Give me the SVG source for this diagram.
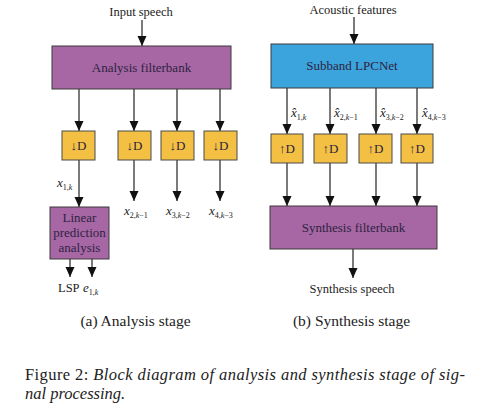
<svg xmlns="http://www.w3.org/2000/svg" width="494" height="404" viewBox="0 0 494 404">
<style>
text{font-family:"Liberation Serif","Times New Roman",serif;fill:#222}
.bt{font-size:13px;fill:#2e2340}
.lb{font-size:12.5px}
.it{font-style:italic}
.sb{font-size:8px}
.cap{font-size:15.5px}
.fig{font-size:16.5px}
.purple{fill:#a767a5;stroke:#3a3a3a;stroke-width:1}
.orange{fill:#f3c043;stroke:#4a4a4a;stroke-width:1}
.blue{fill:#3ca4dc;stroke:#3a3a3a;stroke-width:1}
.ln{stroke:#333;stroke-width:1.3;fill:none;marker-end:url(#ah)}
</style>
<defs>
<marker id="ah" markerUnits="userSpaceOnUse" markerWidth="10" markerHeight="10" refX="10" refY="4.5" orient="auto">
<path d="M0,0 L10,4.5 L0,9 z" fill="#111"/>
</marker>
</defs>
<rect width="494" height="404" fill="#fff"/>
<g id="connectors">
<line class="ln" x1="142" y1="20" x2="142" y2="46"/>
<line class="ln" x1="79" y1="89" x2="79" y2="131"/>
<line class="ln" x1="134" y1="89" x2="134" y2="131"/>
<line class="ln" x1="177" y1="89" x2="177" y2="131"/>
<line class="ln" x1="220" y1="89" x2="220" y2="131"/>
<line class="ln" x1="79" y1="160" x2="79" y2="207"/>
<line class="ln" x1="134" y1="160" x2="134" y2="201"/>
<line class="ln" x1="177" y1="160" x2="177" y2="201"/>
<line class="ln" x1="220" y1="160" x2="220" y2="201"/>
<line class="ln" x1="70" y1="259" x2="70" y2="277"/>
<line class="ln" x1="92" y1="259" x2="92" y2="277"/>
<line class="ln" x1="354" y1="17" x2="354" y2="44"/>
<line class="ln" x1="287" y1="88" x2="287" y2="134"/>
<line class="ln" x1="330" y1="88" x2="330" y2="134"/>
<line class="ln" x1="376" y1="88" x2="376" y2="134"/>
<line class="ln" x1="417" y1="88" x2="417" y2="134"/>
<line class="ln" x1="287" y1="163" x2="287" y2="206"/>
<line class="ln" x1="330" y1="163" x2="330" y2="206"/>
<line class="ln" x1="376" y1="163" x2="376" y2="206"/>
<line class="ln" x1="417" y1="163" x2="417" y2="206"/>
<line class="ln" x1="353" y1="249" x2="353" y2="278"/>
</g>
<g id="input-speech"><text class="lb" x="141" y="16" text-anchor="middle">Input speech</text></g>
<g id="analysis-filterbank">
<rect class="purple" x="52" y="46" width="179" height="43"/>
<text class="bt" x="141.5" y="72" text-anchor="middle">Analysis filterbank</text>
</g>
<g id="down1"><rect class="orange" x="62" y="131" width="33" height="29"/><text class="bt" x="78.5" y="150" text-anchor="middle">↓D</text></g>
<g id="down2"><rect class="orange" x="118" y="131" width="33" height="29"/><text class="bt" x="134.5" y="150" text-anchor="middle">↓D</text></g>
<g id="down3"><rect class="orange" x="161" y="131" width="33" height="29"/><text class="bt" x="177.5" y="150" text-anchor="middle">↓D</text></g>
<g id="down4"><rect class="orange" x="204" y="131" width="33" height="29"/><text class="bt" x="220.5" y="150" text-anchor="middle">↓D</text></g>
<g id="lp-analysis">
<rect class="purple" x="50" y="207" width="59" height="52"/>
<text class="bt" x="79.5" y="222" text-anchor="middle">Linear</text>
<text class="bt" x="79.5" y="237" text-anchor="middle">prediction</text>
<text class="bt" x="79.5" y="252" text-anchor="middle">analysis</text>
</g>
<g id="labels-left">
<text class="lb" x="57" y="187"><tspan class="it" font-size="13">x</tspan><tspan class="sb" dy="3">1,</tspan><tspan class="sb it">k</tspan></text>
<text class="lb" x="124" y="215"><tspan class="it" font-size="13">x</tspan><tspan class="sb" dy="3">2,</tspan><tspan class="sb it">k</tspan><tspan class="sb">−1</tspan></text>
<text class="lb" x="166" y="215"><tspan class="it" font-size="13">x</tspan><tspan class="sb" dy="3">3,</tspan><tspan class="sb it">k</tspan><tspan class="sb">−2</tspan></text>
<text class="lb" x="209" y="215"><tspan class="it" font-size="13">x</tspan><tspan class="sb" dy="3">4,</tspan><tspan class="sb it">k</tspan><tspan class="sb">−3</tspan></text>
<text class="lb" x="58" y="292">LSP</text>
<text class="lb" x="83" y="292"><tspan class="it" font-size="13">e</tspan><tspan class="sb" dy="3">1,</tspan><tspan class="sb it">k</tspan></text>
</g>
<g id="acoustic-features"><text class="lb" x="353" y="14" text-anchor="middle">Acoustic features</text></g>
<g id="subband-lpcnet">
<rect class="blue" x="271" y="44" width="162" height="44"/>
<text class="bt" x="352" y="70" text-anchor="middle">Subband LPCNet</text>
</g>
<g id="labels-right">
<text class="lb" x="291" y="117"><tspan class="it" font-size="13">x̂</tspan><tspan class="sb" dy="3">1,</tspan><tspan class="sb it">k</tspan></text>
<text class="lb" x="334" y="117"><tspan class="it" font-size="13">x̂</tspan><tspan class="sb" dy="3">2,</tspan><tspan class="sb it">k</tspan><tspan class="sb">−1</tspan></text>
<text class="lb" x="380" y="117"><tspan class="it" font-size="13">x̂</tspan><tspan class="sb" dy="3">3,</tspan><tspan class="sb it">k</tspan><tspan class="sb">−2</tspan></text>
<text class="lb" x="422" y="117"><tspan class="it" font-size="13">x̂</tspan><tspan class="sb" dy="3">4,</tspan><tspan class="sb it">k</tspan><tspan class="sb">−3</tspan></text>
</g>
<g id="up1"><rect class="orange" x="271" y="134" width="32" height="29"/><text class="bt" x="287" y="153" text-anchor="middle">↑D</text></g>
<g id="up2"><rect class="orange" x="314" y="134" width="33" height="29"/><text class="bt" x="330.5" y="153" text-anchor="middle">↑D</text></g>
<g id="up3"><rect class="orange" x="359" y="134" width="33" height="29"/><text class="bt" x="375.5" y="153" text-anchor="middle">↑D</text></g>
<g id="up4"><rect class="orange" x="401" y="134" width="32" height="29"/><text class="bt" x="417" y="153" text-anchor="middle">↑D</text></g>
<g id="synthesis-filterbank">
<rect class="purple" x="270" y="206" width="167" height="43"/>
<text class="bt" x="353.5" y="232" text-anchor="middle">Synthesis filterbank</text>
</g>
<g id="synthesis-speech"><text class="lb" x="352" y="293" text-anchor="middle">Synthesis speech</text></g>
<g id="captions">
<text class="cap" x="135.5" y="326" text-anchor="middle">(a)  Analysis stage</text>
<text class="cap" x="351.5" y="326" text-anchor="middle">(b)  Synthesis stage</text>
<text class="fig" x="25" y="380" textLength="440" lengthAdjust="spacing">Figure 2: <tspan class="it">Block diagram of analysis and synthesis stage of sig-</tspan></text>
<text class="fig it" x="25" y="399">nal processing.</text>
</g>
</svg>
